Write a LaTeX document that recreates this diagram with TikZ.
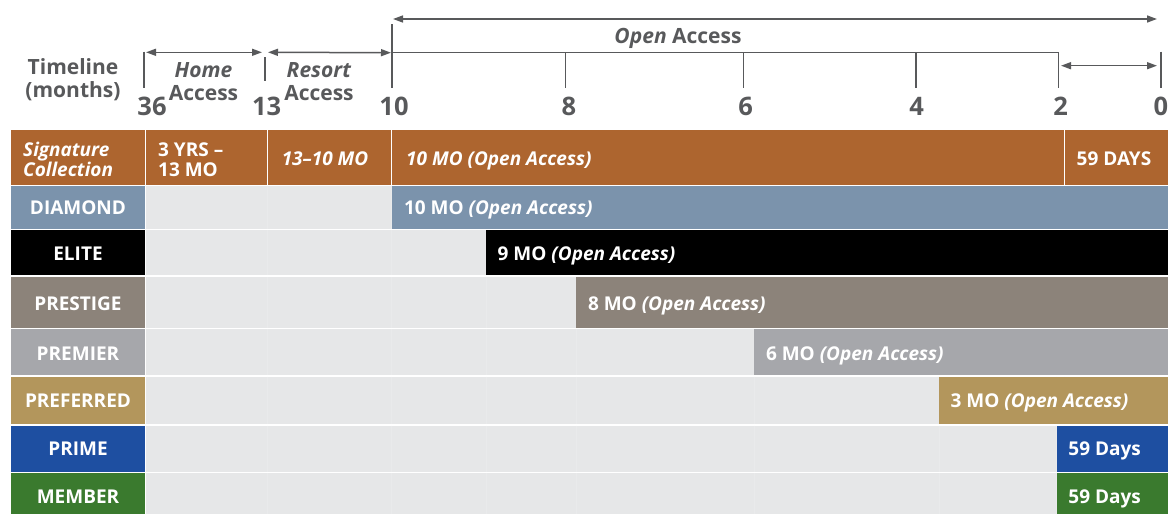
\documentclass[tikz,border=0pt]{standalone}
\usepackage{fontspec}
\setmainfont{Open Sans}
\usepackage{tikz}
\usetikzlibrary{arrows.meta}
\definecolor{txtgray}{HTML}{58595B}
\definecolor{bggray}{HTML}{E6E7E8}
\definecolor{gridgray}{HTML}{E9EAEB}
\definecolor{sigbrown}{HTML}{AD652F}
\definecolor{diamond}{HTML}{7B93AC}
\definecolor{elite}{HTML}{000000}
\definecolor{prestige}{HTML}{8C837A}
\definecolor{premier}{HTML}{A6A7AB}
\definecolor{preferred}{HTML}{B3965C}
\definecolor{prime}{HTML}{1E4FA1}
\definecolor{member}{HTML}{3A7A2E}

\begin{document}
\begin{tikzpicture}[x=1pt,y=-1pt,line join=round,
	>={Triangle[length=10pt,width=7pt]},
	tl/.style={draw=txtgray,line width=1.5pt},
	hdr/.style={text=txtgray,font=\bfseries\fontsize{21}{23}\selectfont,align=center,inner sep=0pt},
	num/.style={text=txtgray,font=\bfseries\fontsize{25.5}{25}\selectfont,anchor=base,inner sep=0pt},
	rowlbl/.style={text=white,font=\bfseries\fontsize{19}{20}\selectfont,anchor=base,inner sep=0pt},
	bartxt/.style={text=white,font=\bfseries\fontsize{19}{20}\selectfont,anchor=base west,inner sep=0pt},
	itxt/.style={font=\bfseries\itshape\fontsize{19}{20}\selectfont},
	gridln/.style={draw=gridgray,line width=0.7pt}]
	\useasboundingbox (0,0) rectangle (1168,514);
	% timeline header
	\coordinate (m36) at (144,52.3);
	\coordinate (m13) at (265,52.3);
	\coordinate (m10) at (392,52.7);
	\coordinate (m2) at (1058.7,52.7);
	\coordinate (m0) at (1161,65.7);
	\coordinate (oa0) at (393,19);
	\coordinate (oa1) at (1157,19);
	\draw[tl] (144,51.7) -- (144,87.7);
	\draw[tl] (265,57.3) -- (265,80.7);
	\draw[tl] (392,24) -- (392,88);
	\draw[tl] (m10) -- (m2);
	\foreach \x in {565.7,743.7,916,1058.7}
	\draw[tl] (\x,52.7) -- (\x,88);
	\draw[tl] (1161,51.7) -- (1161,88);
	\draw[tl,<->] ([xshift=2pt]m36) -- ([xshift=-3pt]m13);
	\draw[tl,<->] ([xshift=3pt]m13) -- ([xshift=-1pt]m10);
	\draw[tl,<->] (oa0) -- (oa1);
	\draw[tl,<->] (1061,65.7) -- ([xshift=-4pt]m0);
	\node[hdr] (tline) at (73,80) {Timeline\\(months)};
	\node[hdr] (home) at (203.5,82) {\textit{Home}\\Access};
	\node[hdr] (resort) at (319,82) {\textit{Resort}\\Access};
	\node[hdr,anchor=base] (open) at (678,43) {\textit{Open} Access};
	\foreach \x/\n in {152/36,266.7/13,394/10,569/8,745.7/6,916.7/4,1060.7/2,1161/0}
	\node[num] (n\n) at (\x,115) {\n};
	% signature collection row
	\fill[sigbrown] (11,130) rectangle (1168,184.5);
	\foreach \x in {145.6,267.6,391.7,1064.2}
	\draw[white,line width=1.3pt] (\x,130) -- (\x,184.5);
	\node[bartxt,itxt,anchor=west,align=left] (sig) at (23,159.5) {Signature\\Collection};
	\node[bartxt,anchor=west,align=left] (home mo) at (158,159.5) {3 YRS --\\13 MO};
	\node[rowlbl,itxt] (resort mo) at (325,165) {13--10 MO};
	\node[bartxt,itxt] (sig open) at (406,165) {10 MO (Open Access)};
	\node[bartxt] (sig days) at (1076.5,165) {59 DAYS};
	% tier rows
	\foreach \name/\col/\top/\bot/\start/\lbl/\yb/\txt in {
		dia/diamond/186/228.5/392.3/DIAMOND/214/{10 MO \textit{(Open Access)}},
		eli/elite/229.8/275.3/486/ELITE/260/{9 MO \textit{(Open Access)}},
		pst/prestige/276.8/327.8/576.3/PRESTIGE/310/{8 MO \textit{(Open Access)}},
		pmr/premier/329.2/375/754.3/PREMIER/360/{6 MO \textit{(Open Access)}},
		pfd/preferred/376.5/424/939/PREFERRED/407.3/{3 MO \textit{(Open Access)}},
		pri/prime/425.5/471.6/1056.7/PRIME/455.5/{59 Days},
		mem/member/473/514/1056.7/MEMBER/503.3/{59 Days}}{
		\fill[\col] (11,\top) rectangle (145,\bot);
		\fill[bggray] (146.3,\top) rectangle (1168,\bot);
		\foreach \x in {267.6,391.7,486,576.3,754.3,939,1056.7,1064.2}
		\draw[gridln] (\x,\top) -- (\x,\bot);
		\fill[\col] (\start,\top) rectangle (1168,\bot);
		\node[rowlbl] (\name lbl) at (78,\yb) {\lbl};
		\node[bartxt] (\name bar) at (\start+11.5,\yb) {\txt};
	}
\end{tikzpicture}
\end{document}
